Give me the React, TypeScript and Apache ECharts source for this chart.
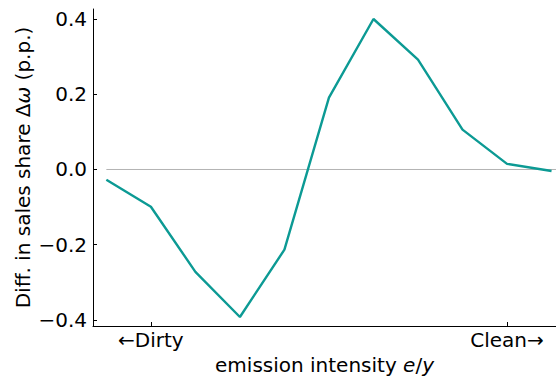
import React, { useEffect, useRef } from "react";
import * as echarts from "echarts";

// Position index along the emission-intensity axis (dirty → clean)
const positions = [0, 1, 2, 3, 4, 5, 6, 7, 8, 9, 10];
// Difference in sales share, percentage points
const salesShareDiff = [-0.027, -0.099, -0.272, -0.392, -0.213, 0.191, 0.4, 0.292, 0.106, 0.015, -0.004];
// Labelled ticks on the x axis
const xTickPositions = [1, 9];
const xTickLabels = ["←Dirty", "Clean→"];
// Labelled ticks on the y axis
const yTickValues = [-0.4, -0.2, 0, 0.2, 0.4];

const FONT = "DejaVu Sans";
const FS = 20;

export default function App() {
  const ref = useRef<HTMLDivElement>(null);

  useEffect(() => {
    if (!ref.current) return;
    const chart = echarts.init(ref.current, null, { renderer: "svg" });
    const lineData = positions.map((x, i) => [x, salesShareDiff[i]]);
    chart.setOption({
      animation: false,
      backgroundColor: "#ffffff",
      grid: { left: 93, right: 0, top: 9, bottom: 53, containLabel: false, outerBoundsMode: "none" },
      xAxis: {
        type: "value",
        min: -0.3,
        max: 10.1,
        name: "emission intensity {i|e}/{i|y}",
        nameLocation: "middle",
        nameGap: 29,
        nameTextStyle: {
          fontFamily: FONT,
          fontSize: FS,
          color: "#000",
          rich: { i: { fontFamily: FONT, fontStyle: "italic", fontSize: FS, color: "#000" } },
        },
        axisLine: { show: true, onZero: false, lineStyle: { color: "#000", width: 1 } },
        axisTick: { show: true, inside: true, length: 4, customValues: xTickPositions, lineStyle: { color: "#000" } },
        axisLabel: {
          show: true,
          customValues: xTickPositions,
          margin: 4,
          fontFamily: FONT,
          fontSize: FS,
          color: "#000",
          formatter: (v: number) => {
            const idx = xTickPositions.indexOf(Math.round(v));
            return idx >= 0 ? xTickLabels[idx] : "";
          },
        },
        splitLine: { show: false },
      },
      yAxis: {
        type: "value",
        min: -0.416,
        max: 0.4266,
        name: "Diff. in sales share Δ{i|ω} (p.p.)",
        nameLocation: "middle",
        nameRotate: 90,
        nameGap: 60,
        nameMoveOverlap: false,
        nameTextStyle: {
          fontFamily: FONT,
          fontSize: FS,
          color: "#000",
          rich: { i: { fontFamily: FONT, fontStyle: "italic", fontSize: FS, color: "#000" } },
        },
        axisLine: { show: true, onZero: false, lineStyle: { color: "#000", width: 1 } },
        axisTick: { show: true, inside: true, length: 4, customValues: yTickValues, lineStyle: { color: "#000" } },
        axisLabel: {
          show: true,
          customValues: yTickValues,
          margin: 6,
          fontFamily: FONT,
          fontSize: FS,
          color: "#000",
          formatter: (v: number) => v.toFixed(1).replace("-", "\u2212"),
        },
        splitLine: { show: false },
      },
      series: [
        {
          type: "line",
          data: [[0, 0], [10.1, 0]],
          symbol: "none",
          silent: true,
          lineStyle: { color: "#b4b4b4", width: 1 },
          z: 1,
        },
        {
          type: "line",
          data: lineData,
          symbol: "none",
          lineStyle: { color: "#0c9a94", width: 2.4 },
          z: 2,
        },
      ],
    });
    return () => chart.dispose();
  }, []);

  return (
    <div
      ref={ref}
      style={{ position: "fixed", left: 0, top: 0, width: 556, height: 379 }}
    />
  );
}
